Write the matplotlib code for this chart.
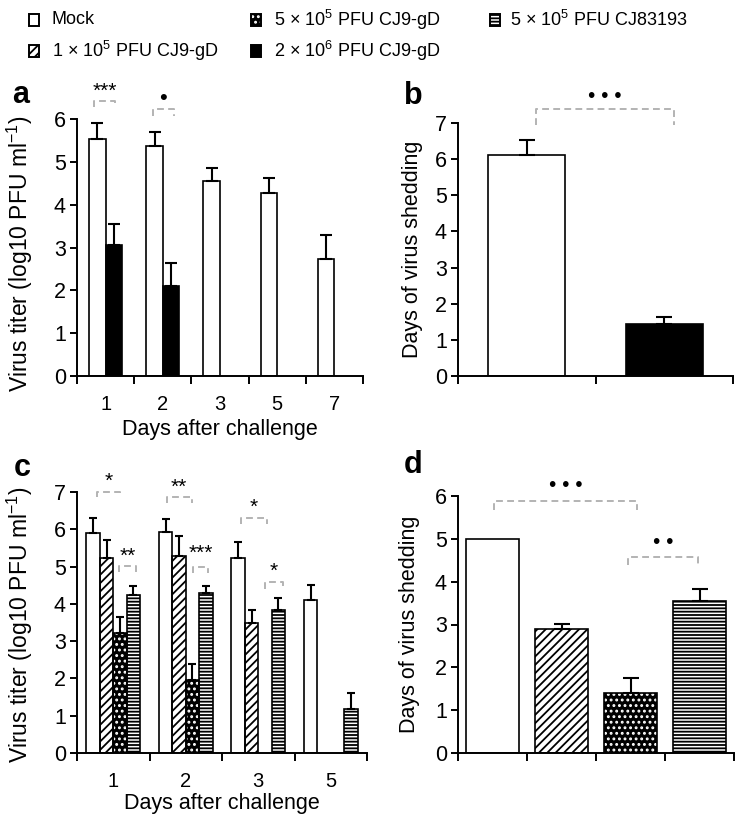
import matplotlib
matplotlib.use('Agg')
import matplotlib.pyplot as plt
from matplotlib.patches import Rectangle
import numpy as np

plt.rcParams['font.family'] = ['Liberation Sans', 'DejaVu Sans']
plt.rcParams['mathtext.fontset'] = 'custom'
plt.rcParams['mathtext.rm'] = 'Liberation Sans'
plt.rcParams['mathtext.it'] = 'Liberation Sans:italic'
plt.rcParams['mathtext.bf'] = 'Liberation Sans:bold'
plt.rcParams['mathtext.default'] = 'regular'
plt.rcParams['hatch.linewidth'] = 1.3

# ---------------- data ----------------
legend_labels = ['Mock', '1 × 10$^{5}$ PFU CJ9-gD', '5 × 10$^{5}$ PFU CJ9-gD',
                 '2 × 10$^{6}$ PFU CJ9-gD', '5 × 10$^{5}$ PFU CJ83193']

# panel a
days_a = ['1', '2', '3', '5', '7']
mock_a = [5.53, 5.38, 4.55, 4.28, 2.74]
mock_a_err = [0.37, 0.32, 0.30, 0.35, 0.55]
high_a = [3.05, 2.10, None, None, None]
high_a_err = [0.51, 0.53, None, None, None]

# panel b
days_b = [6.12, 1.45]
days_b_err = [0.40, 0.17]

# panel c
days_c = ['1', '2', '3', '5']
mock_c = [5.91, 5.92, 5.23, 4.11]
mock_c_err = [0.40, 0.35, 0.42, 0.40]
low_c = [5.24, 5.28, 3.49, None]
low_c_err = [0.46, 0.53, 0.35, None]
mid_c = [3.22, 1.95, None, None]
mid_c_err = [0.43, 0.45, None, None]
cj_c = [4.25, 4.29, 3.84, 1.17]
cj_c_err = [0.22, 0.18, 0.32, 0.44]

# panel d
shed_d = [5.0, 2.90, 1.40, 3.56]
shed_d_err = [None, 0.12, 0.35, 0.27]

# ---------------- styles ----------------
STYLES = {
    'mock': dict(face='white', hatch=None, hcol='black'),
    'low': dict(face='white', hatch='////', hcol='black'),
    'mid': dict(face='black', hatch='...', hcol='white'),
    'high': dict(face='black', hatch=None, hcol='black'),
    'cj': dict(face='white', hatch='-----', hcol='black'),
}
LEG_KEYS = ['mock', 'low', 'mid', 'high', 'cj']
GRAY = '#b3b3b3'
EDGE_LW = 1.2


def draw_bars(ax, xs, vals, errs, key, width, capsize):
    st = STYLES[key]
    for x, v, e in zip(xs, vals, errs):
        if v is None:
            continue
        ax.bar(x, v, width, color=st['face'], edgecolor=st['hcol'],
               hatch=st['hatch'], linewidth=0, zorder=2)
        ax.bar(x, v, width, fill=False, edgecolor='black', linewidth=EDGE_LW, zorder=3)
        if e is not None:
            ax.errorbar([x], [v], yerr=[[0], [e]], fmt='none', ecolor='black',
                        elinewidth=1.5, capsize=capsize, capthick=1.5, zorder=4,
                        clip_on=False)


def style_axis(ax, ncat, ymax, xlabels, xlab_y=None, xlabel=None):
    ax.set_xlim(-0.5, ncat - 0.5)
    ax.set_ylim(0, ymax)
    for s in ['top', 'right']:
        ax.spines[s].set_visible(False)
    for s in ['left', 'bottom']:
        ax.spines[s].set_linewidth(1.4)
    ax.set_xticks(np.arange(ncat + 1) - 0.5)
    ax.set_xticklabels([])
    ax.set_xticks(np.arange(ncat), minor=True)
    ax.set_xticklabels(xlabels, minor=True)
    ax.tick_params(axis='x', which='major', length=6, width=1.4, direction='out')
    ax.tick_params(axis='x', which='minor', length=0, pad=13.5, labelsize=14.5)
    ax.set_yticks(range(ymax + 1))
    ax.tick_params(axis='y', length=5, width=1.4, direction='out', labelsize=15.5, pad=3)
    if xlabel:
        ax.set_xlabel(xlabel, fontsize=15.5)
        ax.xaxis.set_label_coords(0.5, xlab_y)
        ax.xaxis.label.set_va('top')


def bracket(ax, x0, x1, ytop, yleg, text, ty, fs=13):
    ax.plot([x0, x0, x1, x1], [yleg, ytop, ytop, yleg], color=GRAY, lw=1.4,
            ls=(0, (3.5, 2.2)), clip_on=False, zorder=5)
    ax.text((x0 + x1) / 2, ty, text, ha='center', va='center', fontsize=fs,
            color='black', clip_on=False)


fig = plt.figure(figsize=(7.45, 8.25), dpi=100)
W, H = 745.0, 825.0


def add_ax(l, r, b, t):
    return fig.add_axes([l / W, 1 - b / H, (r - l) / W, (b - t) / H])


axA = add_ax(77, 363, 376, 119)
axB = add_ax(458, 733, 376, 123)
axC = add_ax(77, 367, 753, 492)
axD = add_ax(458, 734, 753, 496)

# ---- panel a ----
xa = np.arange(len(days_a))
wa = 0.29
draw_bars(axA, xa - wa / 2, mock_a, mock_a_err, 'mock', wa, 4.5)
draw_bars(axA, xa + wa / 2, high_a, high_a_err, 'high', wa, 4.5)
style_axis(axA, len(days_a), 6, days_a, xlab_y=-0.168, xlabel='Days after challenge')
axA.set_ylabel('Virus titer (log10 PFU ml$^{-1}$)', fontsize=16.5)
axA.yaxis.set_label_coords(-0.147, 0.475)
bracket(axA, -0.2, 0.17, 6.42, 6.27, '***', 6.64, fs=15)
bracket(axA, 0.82, 1.2, 6.24, 6.08, '•', 6.48, fs=16)

# ---- panel b ----
xb = np.arange(2)
wb = 0.56
draw_bars(axB, [xb[0]], [days_b[0]], [days_b_err[0]], 'mock', wb, 5.5)
draw_bars(axB, [xb[1]], [days_b[1]], [days_b_err[1]], 'high', wb, 5.5)
style_axis(axB, 2, 7, ['', ''])
axB.set_ylabel('Days of virus shedding', fontsize=15.5)
axB.yaxis.set_label_coords(-0.128, 0.5)
bracket(axB, 0.07, 1.07, 7.39, 6.95, '• • •', 7.72, fs=15)

# ---- panel c ----
xc = np.arange(len(days_c))
wc = 0.185
offs = np.array([-1.5, -0.5, 0.5, 1.5]) * wc
draw_bars(axC, xc + offs[0], mock_c, mock_c_err, 'mock', wc, 2.8)
draw_bars(axC, xc + offs[1], low_c, low_c_err, 'low', wc, 2.8)
draw_bars(axC, xc + offs[2], mid_c, mid_c_err, 'mid', wc, 2.8)
draw_bars(axC, xc + offs[3], cj_c, cj_c_err, 'cj', wc, 2.8)
style_axis(axC, len(days_c), 7, days_c, xlab_y=-0.153, xlabel='Days after challenge')
axC.set_ylabel('Virus titer (log10 PFU ml$^{-1}$)', fontsize=16.5)
axC.yaxis.set_label_coords(-0.145, 0.49)
bracket(axC, -0.22, 0.09, 7.0, 6.86, '*', 7.28, fs=15)
bracket(axC, 0.08, 0.31, 5.01, 4.85, '**', 5.28, fs=15)
bracket(axC, 0.74, 1.08, 6.87, 6.70, '**', 7.12, fs=15)
bracket(axC, 1.10, 1.31, 5.0, 4.84, '***', 5.36, fs=15)
bracket(axC, 1.76, 2.12, 6.31, 6.13, '*', 6.58, fs=15)
bracket(axC, 2.09, 2.34, 4.58, 4.40, '*', 4.88, fs=15)

# ---- panel d ----
xd = np.arange(4)
wd = 0.76
for i, key in enumerate(['mock', 'low', 'mid', 'cj']):
    draw_bars(axD, [xd[i]], [shed_d[i]], [shed_d_err[i]], key, wd, 5.5)
style_axis(axD, 4, 6, ['', '', '', ''])
axD.set_ylabel('Days of virus shedding', fontsize=15.5)
axD.yaxis.set_label_coords(-0.136, 0.5)
bracket(axD, 0.02, 2.1, 5.88, 5.67, '• • •', 6.24, fs=15)
bracket(axD, 1.96, 2.98, 4.58, 4.39, '• •', 4.92, fs=15)

# ---- panel letters ----
for txt, x, y in [('a', 12, 103), ('b', 404, 104), ('c', 14, 476), ('d', 404, 473)]:
    fig.text(x / W, 1 - y / H, txt, fontsize=22, fontweight='bold', va='baseline')

# ---- legend ----
leg_pos = [(29, 20), (29, 51), (251, 20), (251, 51), (490, 20)]
for lab, key, (px, py) in zip(legend_labels, LEG_KEYS, leg_pos):
    st = STYLES[key]
    bw, bh = 10, 12
    r1 = Rectangle((px / W, 1 - (py + bh / 2) / H), bw / W, bh / H, transform=fig.transFigure,
                   facecolor=st['face'], edgecolor=st['hcol'], hatch=st['hatch'], linewidth=0)
    r2 = Rectangle((px / W, 1 - (py + bh / 2) / H), bw / W, bh / H, transform=fig.transFigure,
                   fill=False, edgecolor='black', linewidth=1.4)
    fig.add_artist(r1)
    fig.add_artist(r2)
    tx = px + (23 if px < 400 else 20)
    fig.text(tx / W, 1 - py / H, lab, fontsize=13, va='center', ha='left')

fig.savefig('out.png', dpi=100)
